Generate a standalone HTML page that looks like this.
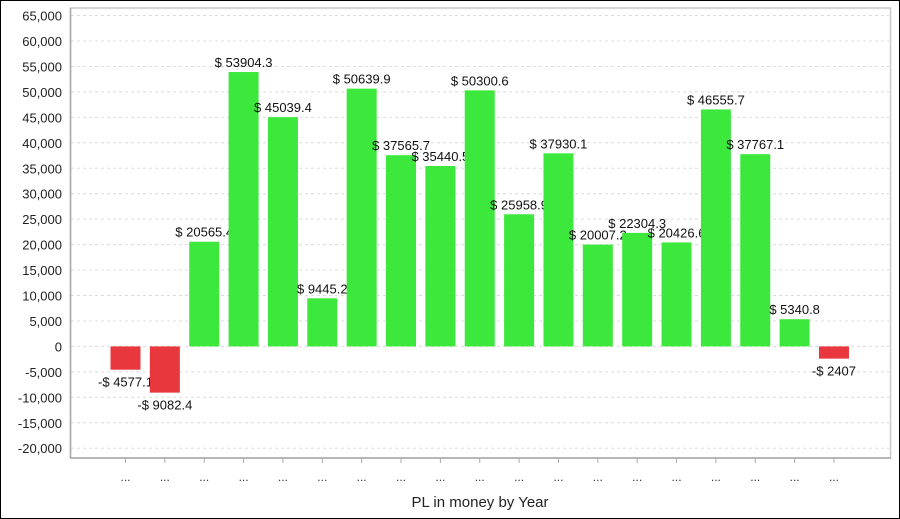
<!DOCTYPE html>
<html><head><meta charset="utf-8"><style>
html,body{margin:0;padding:0;background:#fff}
svg{display:block;font-family:"Liberation Sans",Arial,sans-serif}
</style></head><body>
<svg id="chart" width="900" height="519" viewBox="0 0 900 519" xmlns="http://www.w3.org/2000/svg">
<rect x="0.5" y="0.5" width="899" height="518" fill="#fff" stroke="#000" stroke-width="1"/>
<g id="grid"></g>
<g id="yaxis"></g>
<g id="bars"></g>
<rect x="70.5" y="8" width="820" height="450" fill="none" stroke="#c8c8c8" stroke-width="1.5"/>
<line x1="70" y1="458" x2="891" y2="458" stroke="#aaa" stroke-width="1.5"/>
<line x1="70.5" y1="8" x2="70.5" y2="458" stroke="#aaa" stroke-width="1.5"/>
<g id="xaxis"></g>
<text x="480" y="507" font-size="15" text-anchor="middle" fill="#222">PL in money by Year</text>
</svg>
<script>
const categories = ["...","...","...","...","...","...","...","...","...","...","...","...","...","...","...","...","...","...","..."];
const values = [-4577.1,-9082.4,20565.4,53904.3,45039.4,9445.2,50639.9,37565.7,35440.5,50300.6,25958.9,37930.1,20007.2,22304.3,20426.6,46555.7,37767.1,5340.8,-2407];
const yTicks = [65000,60000,55000,50000,45000,40000,35000,30000,25000,20000,15000,10000,5000,0,-5000,-10000,-15000,-20000];

const NS="http://www.w3.org/2000/svg";
const y = v => 346.4 - v*(25.45/5000);
const x = i => 125.5 + i*39.36;
const BW = 30;
function mk(tag, attrs, parent){const e=document.createElementNS(NS,tag);for(const k in attrs)e.setAttribute(k,attrs[k]);parent.appendChild(e);return e;}
const grid=document.getElementById('grid'), ya=document.getElementById('yaxis'), bars=document.getElementById('bars'), xa=document.getElementById('xaxis');
const fmt = v => v.toLocaleString('en-US');
yTicks.forEach(t=>{
  const gl=mk('line',{x1:71,x2:889,y1:y(t),y2:y(t),stroke:'#dcdcdc','stroke-dasharray':'3,3'},grid);
  
  
  const tl=mk('text',{x:62,y:y(t)+5,'font-size':13,'text-anchor':'end',fill:'#222'},ya);
  tl.textContent=fmt(t);
  
  
});
values.forEach((v,i)=>{
  const top=v>=0?y(v):y(0), h=Math.abs(y(v)-y(0));
  const r=mk('rect',{x:x(i)-BW/2,y:top,width:BW,height:h,fill:v>=0?'#3ce83c':'#e8383d'},bars);
  
  
  const lbl=mk('text',{x:x(i),y:v>=0?y(v)-5:y(v)+17,'font-size':13,'text-anchor':'middle',fill:'#111'},bars);
  lbl.textContent=(v<0?'-$ ':'$ ')+String(Math.abs(v));
  
  
});
categories.forEach((c,i)=>{
  const tk=mk('line',{x1:x(i),x2:x(i),y1:458,y2:463,stroke:'#aaa'},xa);
  
  
  const t=mk('text',{x:x(i),y:481,'font-size':12,'text-anchor':'middle',fill:'#333'},xa);
  t.textContent=c;
  
  
});
</script>
</body></html>
